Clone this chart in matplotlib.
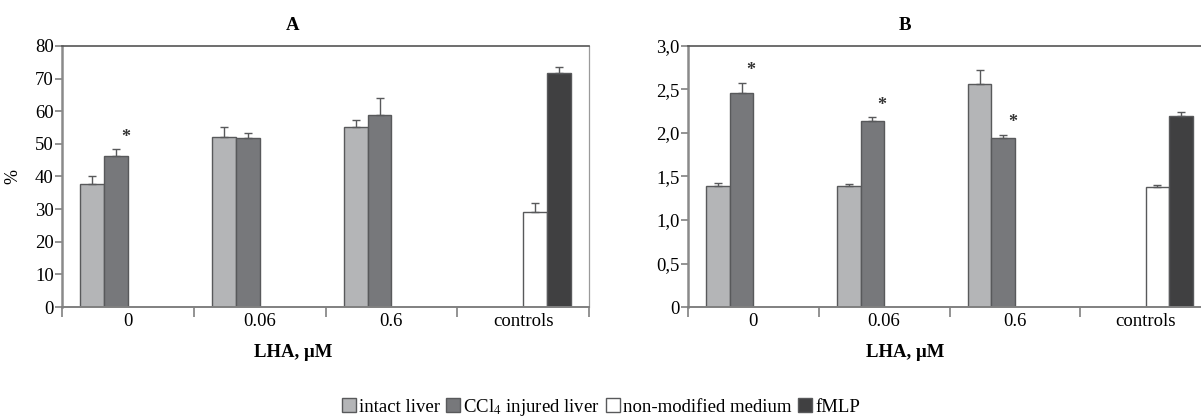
import numpy as np
import matplotlib
matplotlib.use("Agg")
import matplotlib.pyplot as plt
from matplotlib.patches import Patch

plt.rcParams["font.family"] = ["Liberation Serif", "DejaVu Serif"]
plt.rcParams["mathtext.fontset"] = "stix"

categories = ["0", "0.06", "0.6", "controls"]
series_names = ["intact liver", r"CCl$_4$ injured liver", "non-modified medium", "fMLP"]
colors = ["#b4b5b7", "#77787b", "#ffffff", "#404041"]

# panel A (%)
a_vals = [
    [37.6, 52.0, 55.2, np.nan],
    [46.4, 51.7, 58.7, np.nan],
    [np.nan, np.nan, np.nan, 29.0],
    [np.nan, np.nan, np.nan, 71.7],
]
a_err = [
    [2.7, 3.2, 2.0, 0],
    [2.1, 1.6, 5.3, 0],
    [0, 0, 0, 2.8],
    [0, 0, 0, 2.0],
]
a_stars = [(0, 1)]  # (group, series)

# panel B
b_vals = [
    [1.39, 1.39, 2.56, np.nan],
    [2.46, 2.14, 1.94, np.nan],
    [np.nan, np.nan, np.nan, 1.38],
    [np.nan, np.nan, np.nan, 2.20],
]
b_err = [
    [0.04, 0.02, 0.16, 0],
    [0.12, 0.04, 0.04, 0],
    [0, 0, 0, 0.02],
    [0, 0, 0, 0.04],
]
b_stars = [(0, 1), (1, 1), (2, 1)]

W, H = 1201, 419
fig = plt.figure(figsize=(W / 100, H / 100), dpi=100)


def px_axes(x0, x1, y0, y1):
    return fig.add_axes([x0 / W, 1 - y1 / H, (x1 - x0) / W, (y1 - y0) / H])


bar_w = 0.18


def draw_panel(ax, vals, errs, stars, ymax, step, labels):
    x = np.arange(len(categories))
    for i in range(4):
        off = (i - 1.5) * bar_w
        v = np.array(vals[i], dtype=float)
        e = np.array(errs[i], dtype=float)
        ax.bar(x + off, v, width=bar_w, color=colors[i], edgecolor="#58595b",
               linewidth=1.0, zorder=2)
        mask = ~np.isnan(v)
        ax.errorbar((x + off)[mask], v[mask],
                    yerr=[np.zeros(mask.sum()), e[mask]],
                    fmt="none", ecolor="#58595b", elinewidth=1.0,
                    capsize=3, capthick=1.0, zorder=3)
    for g, s in stars:
        off = (s - 1.5) * bar_w
        top = vals[s][g] + errs[s][g]
        ax.text(g + off + 0.4 * bar_w, top + 0.045 * ymax, "*",
                ha="center", va="center", fontsize=13, fontweight="bold",
                color="#333333")

    ax.set_xlim(-0.5, len(categories) - 0.5)
    ax.set_ylim(0, ymax)
    ticks = np.arange(0, ymax + step / 2, step)
    ax.set_yticks(ticks)
    ax.set_yticklabels(labels)
    ax.set_xticks(np.arange(-0.5, len(categories)))
    ax.set_xticklabels([])
    ax.set_xticks(x, minor=True)
    ax.set_xticklabels(categories, minor=True)
    ax.tick_params(axis="x", which="major", direction="out", length=7,
                   width=1.2, color="#808080")
    ax.tick_params(axis="x", which="minor", length=0, labelsize=13.5, pad=4)
    ax.tick_params(axis="y", direction="out", length=5, width=1.2,
                   color="#808080", labelsize=13.5, pad=1)
    ax.spines["left"].set_color("#8a8a8a")
    ax.spines["left"].set_linewidth(1.8)
    ax.spines["bottom"].set_color("#808080")
    ax.spines["bottom"].set_linewidth(1.4)
    ax.spines["top"].set_color("#555555")
    ax.spines["top"].set_linewidth(1.2)
    ax.spines["right"].set_color("#9a9a9a")
    ax.spines["right"].set_linewidth(0.9)


ax_a = px_axes(62, 589, 46, 307)
draw_panel(ax_a, a_vals, a_err, a_stars, 80, 10,
           [str(t) for t in range(0, 90, 10)])
ax_a.set_ylabel("%", fontsize=13, labelpad=10)

ax_b = px_axes(688, 1211, 46, 307)
draw_panel(ax_b, b_vals, b_err, b_stars, 3.0, 0.5,
           ["0", "0,5", "1,0", "1,5", "2,0", "2,5", "3,0"])

for cx, t in [(293, "A"), (905, "B")]:
    fig.text(cx / W, 1 - 25 / H, t, ha="center", va="center",
             fontsize=13.5, fontweight="bold")
    fig.text(cx / W, 1 - 352 / H, "LHA, μM", ha="center", va="center",
             fontsize=13.5, fontweight="bold")

handles = [Patch(facecolor=c, edgecolor="#58595b", linewidth=1.0) for c in colors]
fig.legend(handles, series_names, loc="center", bbox_to_anchor=(601 / W, 1 - 407 / H),
           ncol=4, frameon=False, fontsize=13.5, handlelength=0.75, handleheight=0.75,
           handletextpad=0.15, columnspacing=0.35, borderaxespad=0)

fig.savefig("out.png", dpi=100)
